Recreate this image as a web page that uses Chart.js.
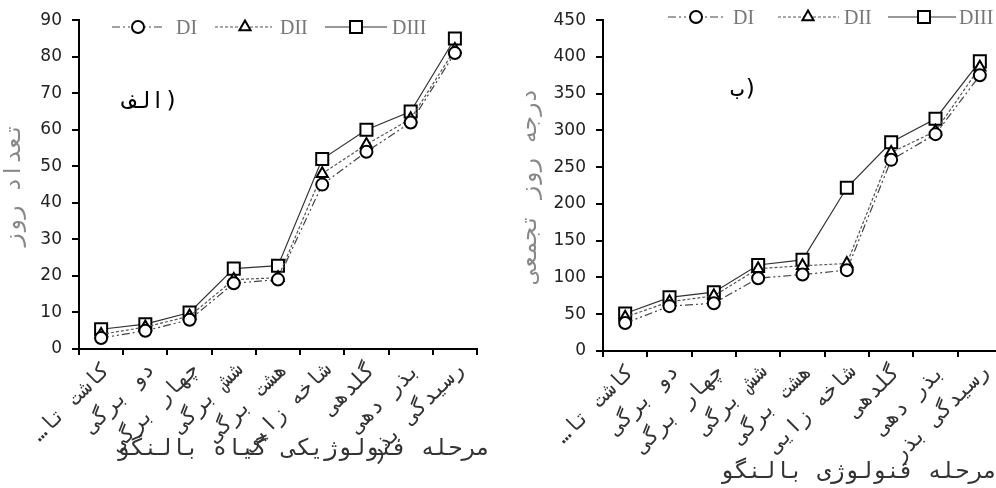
<!DOCTYPE html>
<html><head><meta charset="utf-8">
<script src="https://cdn.jsdelivr.net/npm/chart.js@4.4.1/dist/chart.umd.min.js"></script>
<style>
html,body{margin:0;padding:0;background:#fff;}
body{width:996px;height:488px;overflow:hidden;position:relative}
.box{position:absolute;top:0;height:488px}
#c1box{left:0;width:490px}
#c2box{left:500px;width:520px}
.fa{position:absolute;font-family:"DejaVu Sans Mono";white-space:nowrap;font-size:23px;line-height:28px;direction:rtl}
.fa.l{direction:ltr}
.leg{position:absolute;font-family:"Liberation Serif";font-size:20px;color:#777;line-height:20px;white-space:nowrap}
</style></head><body>
<div class="box" id="c1box"><canvas id="c1"></canvas></div>
<div class="box" id="c2box"><canvas id="c2"></canvas></div>

<svg width="996" height="40" style="position:absolute;left:0;top:0">
  <g fill="none">
    <line x1="112" y1="27" x2="162" y2="27" stroke="#444" stroke-width="1.2" stroke-dasharray="8 3 2 3 2 3"/>
    <circle cx="138" cy="27" r="6" stroke="#000" stroke-width="2" fill="#fff"/>
    <line x1="215" y1="27" x2="272" y2="27" stroke="#555" stroke-width="1.2" stroke-dasharray="3 2"/>
    <polygon points="245,20.5 250.6,30.25 239.4,30.25" stroke="#000" stroke-width="2" fill="#fff"/>
    <line x1="325" y1="27" x2="387" y2="27" stroke="#333" stroke-width="1.2"/>
    <rect x="350" y="21" width="12" height="12" stroke="#000" stroke-width="2" fill="#fff"/>

    <line x1="668" y1="17" x2="723" y2="17" stroke="#444" stroke-width="1.2" stroke-dasharray="8 3 2 3 2 3"/>
    <circle cx="696" cy="17" r="6" stroke="#000" stroke-width="2" fill="#fff"/>
    <line x1="778" y1="17" x2="839" y2="17" stroke="#555" stroke-width="1.2" stroke-dasharray="3 2"/>
    <polygon points="808,10.5 813.6,20.25 802.4,20.25" stroke="#000" stroke-width="2" fill="#fff"/>
    <line x1="888" y1="17" x2="956" y2="17" stroke="#333" stroke-width="1.2"/>
    <rect x="918" y="11" width="12" height="12" stroke="#000" stroke-width="2" fill="#fff"/>
  </g>
</svg>
<div class="leg" style="left:176px;top:17px">DI</div>
<div class="leg" style="left:280px;top:17px">DII</div>
<div class="leg" style="left:392px;top:17px">DIII</div>
<div class="leg" style="left:733px;top:7px">DI</div>
<div class="leg" style="left:844px;top:7px">DII</div>
<div class="leg" style="left:959px;top:7px">DIII</div>

<div class="fa l" style="left:123px;top:86px;color:#000">الف)</div>
<div class="fa l" style="left:730px;top:74px;color:#000">ب)</div>
<div class="fa" style="right:506px;top:433px;color:#333">مرحله فنولوژیکی گیاه بالنگو</div>
<div class="fa" style="right:-1px;top:456px;color:#333">مرحله فنولوژی بالنگو</div>

<script>
const categories = ["کاشت تا…","دو برگی","چهار برگی","شش برگی","هشت برگی","شاخه زایی","گلدهی","بذر دهی","رسیدگی بذر"];
const seriesNames = ["DI","DII","DIII"];
// panel الف: number of days
const daysDI   = [3, 5, 8, 18, 19, 45, 54, 62, 81];
const daysDII  = [4, 6, 9, 19, 19.5, 48, 56, 63, 82];
const daysDIII = [5.4, 6.8, 10, 22, 22.8, 52, 60, 65, 85];
const daysAxis = {min: 0, max: 90, step: 10, title: "تعداد روز"};
// panel ب: cumulative growing degree days
const gddDI   = [38, 61, 65, 99, 104, 110, 260, 295, 375];
const gddDII  = [46, 67, 75, 112, 116, 119, 270, 299, 386];
const gddDIII = [51, 73, 80, 117, 124, 222, 284, 316, 394];
const gddAxis = {min: 0, max: 450, step: 50, title: "درجه روز تجمعی"};

const styles = [
  {borderColor:'#444', borderDash:[8,3,2,3,2,3], pointStyle:'circle', pointRadius:6},
  {borderColor:'#555', borderDash:[3,2], pointStyle:'triangle', pointRadius:6.5},
  {borderColor:'#333', borderDash:[], pointStyle:'rect', pointRadius:8.5}
];

function makeChart(id, series, axis, opt) {
  const datasets = series.map((d, i) => Object.assign({
    label: seriesNames[i], data: d, borderWidth: 1.2, fill: false, tension: 0,
    pointBorderWidth: 2, pointBorderColor: '#000', pointBackgroundColor: '#fff',
    pointHoverRadius: styles[i].pointRadius
  }, styles[i]));
  return new Chart(document.getElementById(id), {
    type: 'line',
    data: {labels: categories, datasets},
    options: {
      responsive: true, maintainAspectRatio: false, animation: false,
      events: [],
      layout: {padding: {top: opt.top, right: opt.right, left: 0, bottom: 0}},
      plugins: {legend: {display: false}, tooltip: {enabled: false}},
      scales: {
        x: {
          type: 'category', offset: true,
          grid: {offset: true, drawOnChartArea: false, drawTicks: true, tickLength: 6, color: '#000', lineWidth: 2},
          border: {display: true, color: '#000', width: 2},
          ticks: {autoSkip: false, minRotation: 45, maxRotation: 45, padding: 3, labelOffset: 6, color: '#333',
                  font: {family: 'DejaVu Sans Mono', size: 21},
                  callback: (v, i) => categories[i] + '\u200F'},
          afterFit: s => { s.height = opt.xh; }
        },
        y: {
          min: axis.min, max: axis.max,
          grid: {drawOnChartArea: false, drawTicks: true, tickLength: 7, color: '#000', lineWidth: 2},
          border: {display: true, color: '#000', width: 2},
          ticks: {stepSize: axis.step, padding: 10, color: '#222', font: {family: 'DejaVu Sans', size: 17}},
          title: {display: true, text: axis.title, color: '#888',
                  font: {family: 'DejaVu Sans Mono', size: 23}, padding: {top: opt.tp, bottom: 0}},
          afterFit: s => { s.width = opt.yw; }
        }
      }
    }
  });
}

makeChart('c1', [daysDI, daysDII, daysDIII], daysAxis, {top: 18, right: 13, xh: 139, yw: 79, tp: 0});
makeChart('c2', [gddDI, gddDII, gddDIII], gddAxis, {top: 19, right: 18, xh: 137, yw: 103, tp: 16});
</script>
</body></html>
